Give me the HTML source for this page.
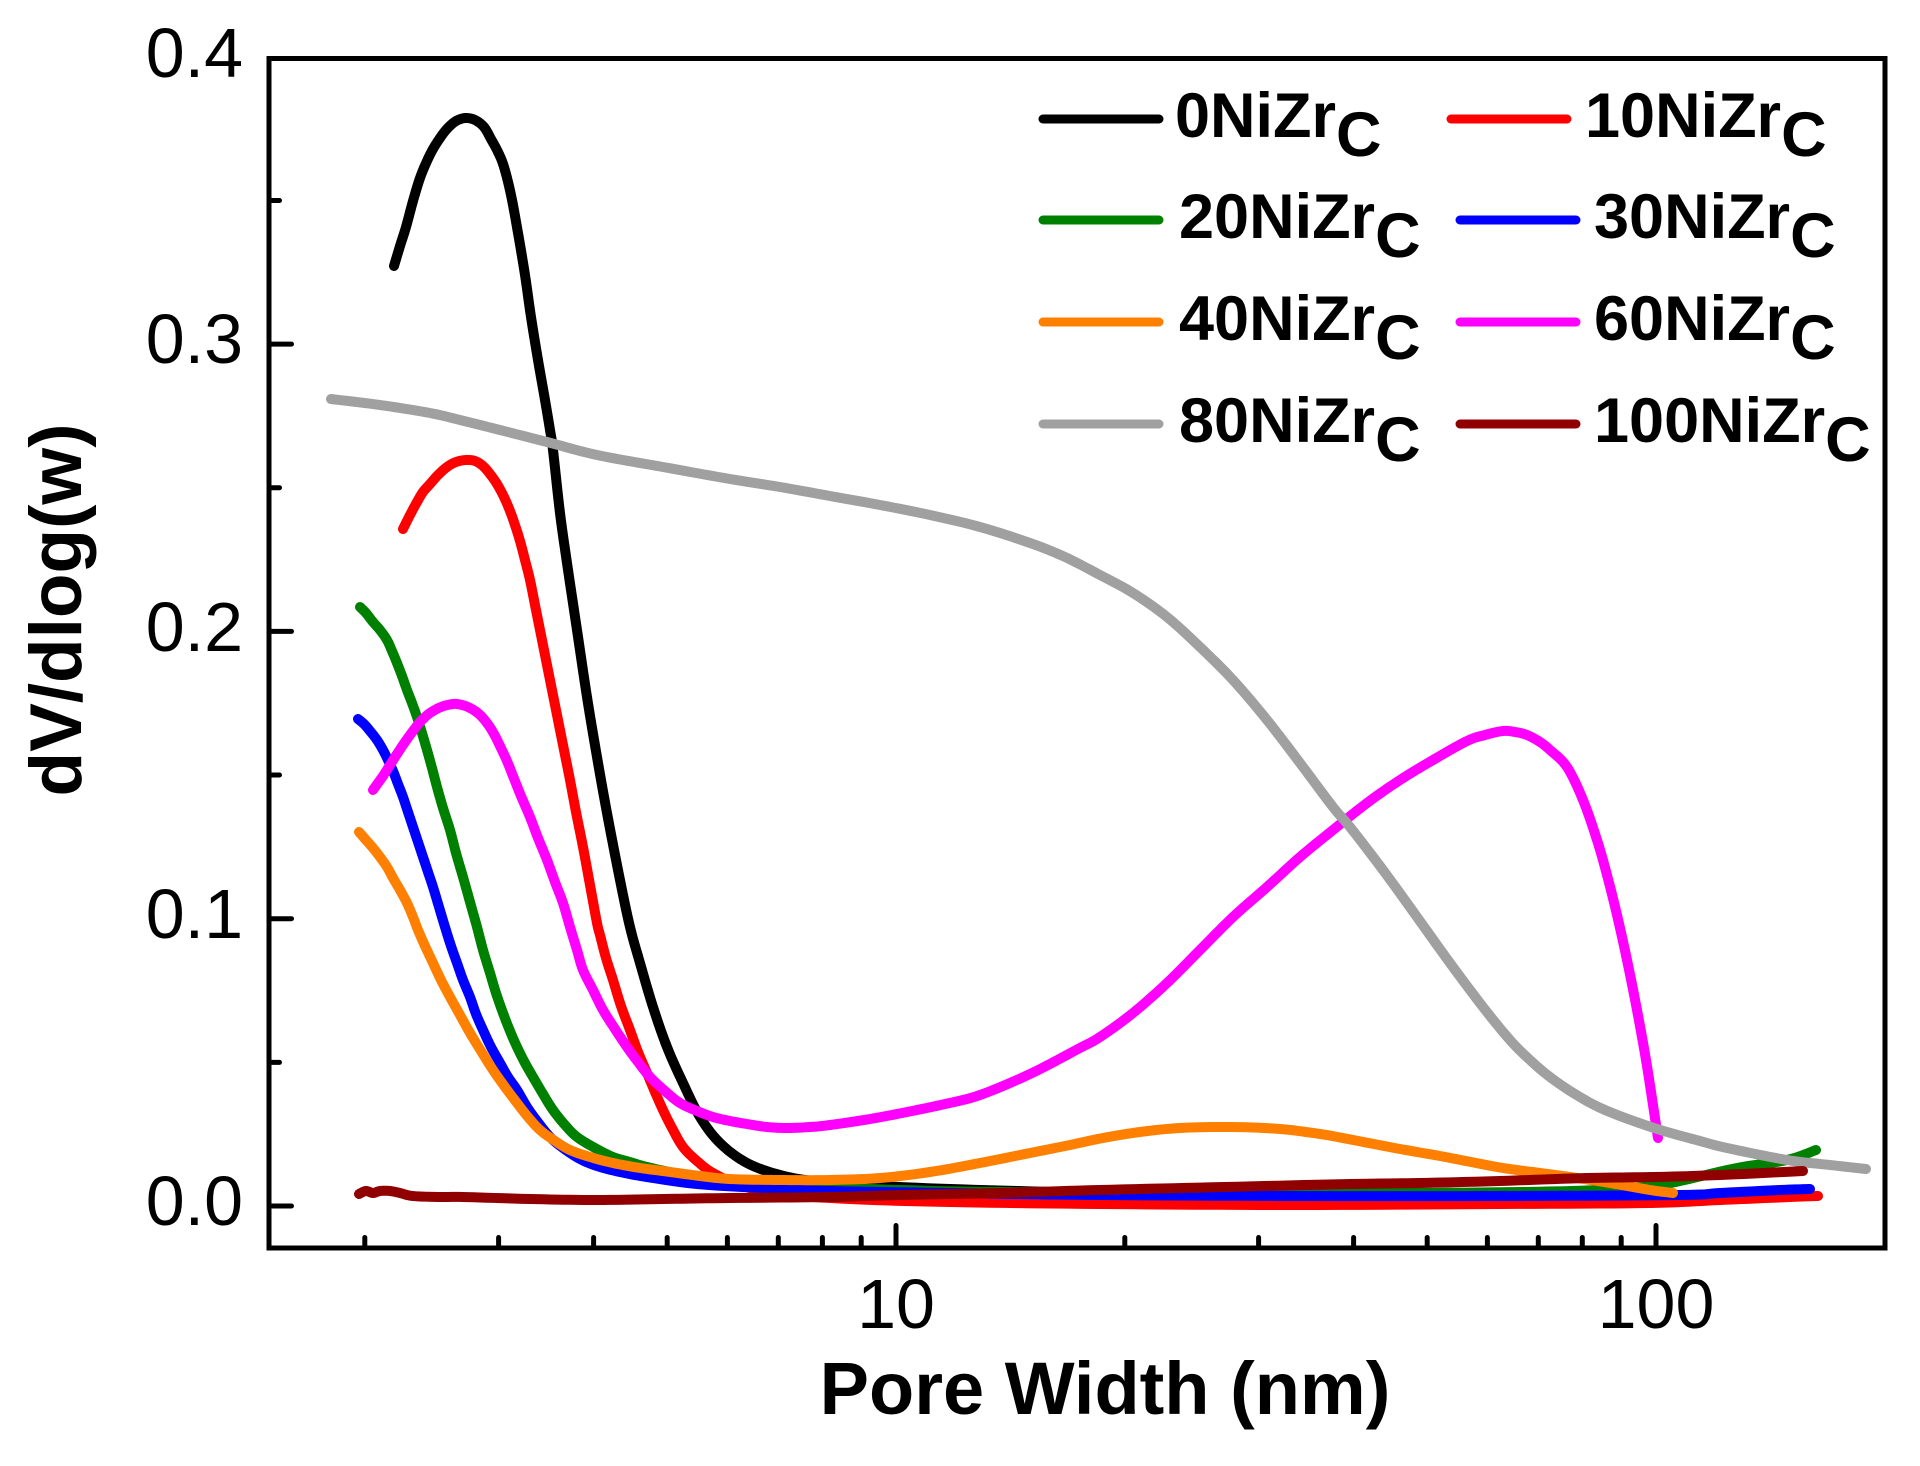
<!DOCTYPE html>
<html>
<head>
<meta charset="utf-8">
<style>
  html, body { margin: 0; padding: 0; background: #ffffff; }
  svg { display: block; }
  text { font-family: "Liberation Sans", Arial, sans-serif; fill: #000; }
</style>
</head>
<body>
<svg width="1920" height="1466" viewBox="0 0 1920 1466" xmlns="http://www.w3.org/2000/svg">
  <rect x="0" y="0" width="1920" height="1466" fill="#ffffff"/>

  <!-- Series -->
  <g fill="none" stroke-width="10" stroke-linecap="round" stroke-linejoin="round">
    <!-- 0NiZrC black -->
    <polyline class="s" stroke="#000000" points="394,266 400,246 406,227 413,201 420,178 427,161 433,149 440,138 446,130 452,124 458,120 466,118 475,120 484,127 491,139 498,152 504,167 511,195 518,233 525,275 531,317 538,360 545,400 550,430 553,450 560,513 567,563 577,630 587,697 597,757 607,813 620,880 630,927 640,963 653,1007 667,1047 683,1083 700,1117 720,1143 747,1163 780,1175 813,1181 860,1185 950,1189 1100,1193 1300,1196 1500,1197 1700,1197 1800,1196"/>
    <!-- 10NiZrC red -->
    <polyline class="s" stroke="#ff0000" points="403,529 410,515 417,502 423,492 430,484 438,475 447,467 456,462 466,460 475,461 483,466 490,474 497,484 504,497 510,511 515,525 520,541 525,560 530,580 535,605 540,630 545,655 550,680 555,705 560,730 565,755 570,780 576,812 583,847 590,885 597,923 600,935 606,958 613,980 621,1006 630,1030 638,1052 647,1073 655,1092 663,1110 672,1128 683,1147 697,1161 713,1173 740,1185 780,1194 850,1199 950,1202 1100,1204 1300,1205 1500,1204 1650,1203 1720,1200 1790,1197 1818,1196"/>
    <!-- 20NiZrC green -->
    <polyline class="s" stroke="#008000" points="360,607 366,613 373,622 380,630 387,640 392,651 397,663 402,676 407,690 412,703 417,717 422,733 427,750 432,768 437,787 443,808 450,830 456,853 463,877 470,902 477,927 483,950 490,973 496,993 503,1013 510,1031 517,1047 525,1063 533,1077 543,1094 553,1110 565,1125 577,1137 595,1148 613,1157 630,1162 647,1167 680,1174 720,1180 800,1186 900,1190 1000,1192 1200,1193 1400,1193 1520,1192 1600,1190 1653,1186 1680,1181 1737,1168 1787,1160 1816,1150"/>
    <!-- 30NiZrC blue -->
    <polyline class="s" stroke="#0000ff" points="358,719 364,724 370,731 377,740 383,750 388,760 393,771 398,784 403,797 408,812 413,827 418,842 423,857 428,872 433,887 439,907 445,927 451,946 457,963 463,980 470,997 476,1014 483,1030 491,1047 500,1063 508,1077 517,1090 527,1107 537,1121 550,1137 563,1148 580,1159 597,1166 620,1172 647,1177 697,1184 763,1188 830,1191 950,1193 1100,1195 1300,1196 1500,1196 1680,1195 1720,1193 1780,1190 1810,1189"/>
    <!-- 40NiZrC orange -->
    <polyline class="s" stroke="#ff8000" points="359,832 366,840 373,848 380,857 387,867 393,878 400,890 407,903 413,917 418,930 425,946 433,963 441,980 450,997 460,1015 470,1033 481,1051 493,1070 505,1087 517,1103 528,1117 540,1130 555,1141 570,1150 590,1157 613,1163 640,1168 663,1171 700,1176 730,1179 780,1180 830,1180 880,1178 930,1172 980,1163 1030,1153 1070,1145 1103,1138 1140,1132 1180,1128 1232,1127 1280,1129 1320,1134 1348,1139 1400,1149 1440,1156 1471,1162 1503,1168 1540,1173 1577,1178 1610,1183 1650,1190 1673,1193"/>
    <!-- 60NiZrC magenta -->
    <polyline class="s" stroke="#ff00ff" points="373,790 378,783 383,776 390,765 397,754 405,742 413,731 421,721 430,713 441,707 453,704 462,705 470,708 479,714 487,723 494,734 500,746 507,761 513,776 521,796 530,817 538,838 547,860 555,882 563,903 570,927 577,950 583,970 593,990 603,1010 615,1029 627,1047 638,1062 650,1077 665,1091 680,1103 697,1111 713,1117 730,1121 747,1124 767,1127 787,1128 810,1127 830,1125 870,1119 907,1112 945,1104 980,1095 1030,1074 1078,1049 1100,1037 1133,1013 1167,983 1200,950 1233,917 1267,887 1300,857 1333,830 1367,803 1400,780 1433,760 1467,741 1485,735 1503,731 1515,732 1527,735 1540,742 1550,750 1567,767 1583,800 1597,840 1607,875 1617,915 1627,960 1637,1010 1646,1060 1653,1105 1658,1138"/>
    <!-- 80NiZrC gray -->
    <polyline class="s" stroke="#a0a0a0" points="331,399 380,405 430,413 464,421 500,430 547,442 597,455 663,467 730,479 780,487 830,496 880,505 930,515 980,527 1030,543 1065,557 1100,575 1133,593 1167,617 1200,647 1233,680 1267,720 1300,763 1333,807 1350,827 1383,870 1417,917 1450,963 1483,1007 1510,1040 1530,1060 1550,1077 1575,1094 1605,1110 1654,1128 1700,1141 1727,1148 1787,1160 1830,1165 1866,1169"/>
    <!-- 100NiZrC dark red -->
    <polyline class="s" stroke="#900000" points="359,1194 366,1191 373,1193 380,1191 390,1191 400,1193 413,1196 440,1197 463,1197 530,1199 597,1200 663,1199 730,1198 830,1197 900,1195 1000,1193 1100,1190 1225,1187 1350,1184 1420,1183 1500,1181 1587,1178 1654,1177 1720,1175 1803,1171"/>
  </g>

  <!-- Frame -->
  <rect x="269" y="58.5" width="1616" height="1189.5" fill="none" stroke="#000" stroke-width="5"/>

  <!-- Ticks -->
  <g stroke="#000" stroke-width="5" stroke-linecap="round" fill="none">
    <line x1="269" y1="1206" x2="291.5" y2="1206"/>
    <line x1="269" y1="918.7" x2="291.5" y2="918.7"/>
    <line x1="269" y1="631.4" x2="291.5" y2="631.4"/>
    <line x1="269" y1="344.1" x2="291.5" y2="344.1"/>
    <line x1="269" y1="1062.4" x2="279.5" y2="1062.4"/>
    <line x1="269" y1="775" x2="279.5" y2="775"/>
    <line x1="269" y1="487.7" x2="279.5" y2="487.7"/>
    <line x1="269" y1="200.5" x2="279.5" y2="200.5"/>
    <line x1="896" y1="1248" x2="896" y2="1225.5"/>
    <line x1="1656" y1="1248" x2="1656" y2="1225.5"/>
    <line x1="364.8" y1="1248" x2="364.8" y2="1237.5"/>
    <line x1="498.6" y1="1248" x2="498.6" y2="1237.5"/>
    <line x1="593.6" y1="1248" x2="593.6" y2="1237.5"/>
    <line x1="667.2" y1="1248" x2="667.2" y2="1237.5"/>
    <line x1="727.4" y1="1248" x2="727.4" y2="1237.5"/>
    <line x1="778.3" y1="1248" x2="778.3" y2="1237.5"/>
    <line x1="822.4" y1="1248" x2="822.4" y2="1237.5"/>
    <line x1="861.2" y1="1248" x2="861.2" y2="1237.5"/>
    <line x1="1124.8" y1="1248" x2="1124.8" y2="1237.5"/>
    <line x1="1258.6" y1="1248" x2="1258.6" y2="1237.5"/>
    <line x1="1353.6" y1="1248" x2="1353.6" y2="1237.5"/>
    <line x1="1427.2" y1="1248" x2="1427.2" y2="1237.5"/>
    <line x1="1487.4" y1="1248" x2="1487.4" y2="1237.5"/>
    <line x1="1538.3" y1="1248" x2="1538.3" y2="1237.5"/>
    <line x1="1582.3" y1="1248" x2="1582.3" y2="1237.5"/>
    <line x1="1621.2" y1="1248" x2="1621.2" y2="1237.5"/>
  </g>

  <!-- Y tick labels -->
  <g font-size="70" text-anchor="end">
    <text x="243" y="1225">0.0</text>
    <text x="243" y="938">0.1</text>
    <text x="243" y="651">0.2</text>
    <text x="243" y="363">0.3</text>
    <text x="243" y="77">0.4</text>
  </g>

  <!-- X tick labels -->
  <g font-size="70" text-anchor="middle">
    <text x="896" y="1328">10</text>
    <text x="1656" y="1328">100</text>
  </g>

  <!-- Axis titles -->
  <text x="1105" y="1414" font-size="74" font-weight="bold" text-anchor="middle">Pore Width (nm)</text>
  <text x="0" y="0" font-size="73" font-weight="bold" text-anchor="middle" transform="translate(81,610) rotate(-90)">dV/dlog(w)</text>

  <!-- Legend -->
  <g stroke-width="9" stroke-linecap="round" fill="none">
    <line x1="1043" y1="119" x2="1159" y2="119" stroke="#000000"/>
    <line x1="1043" y1="220" x2="1159" y2="220" stroke="#008000"/>
    <line x1="1043" y1="322" x2="1159" y2="322" stroke="#ff8000"/>
    <line x1="1043" y1="424" x2="1159" y2="424" stroke="#a0a0a0"/>
    <line x1="1451" y1="119" x2="1567" y2="119" stroke="#ff0000"/>
    <line x1="1460" y1="220" x2="1576" y2="220" stroke="#0000ff"/>
    <line x1="1460" y1="322" x2="1576" y2="322" stroke="#ff00ff"/>
    <line x1="1460" y1="424" x2="1576" y2="424" stroke="#900000"/>
  </g>
  <g font-size="63" font-weight="bold">
    <text x="1175" y="137">0NiZr<tspan dy="19">C</tspan></text>
    <text x="1179" y="238">20NiZr<tspan dy="19">C</tspan></text>
    <text x="1179" y="340">40NiZr<tspan dy="19">C</tspan></text>
    <text x="1179" y="442">80NiZr<tspan dy="19">C</tspan></text>
    <text x="1585" y="137">10NiZr<tspan dy="19">C</tspan></text>
    <text x="1594" y="238">30NiZr<tspan dy="19">C</tspan></text>
    <text x="1594" y="340">60NiZr<tspan dy="19">C</tspan></text>
    <text x="1594" y="442">100NiZr<tspan dy="19">C</tspan></text>
  </g>
</svg>
<script>
(function () {
  try {
    var lines = document.querySelectorAll('polyline.s');
    for (var k = 0; k < lines.length; k++) {
      var pl = lines[k];
      var raw = pl.getAttribute('points').trim().split(/\s+/);
      var p = raw.map(function (s) { var a = s.split(','); return [parseFloat(a[0]), parseFloat(a[1])]; });
      if (p.length < 3) continue;
      var out = [];
      var N = 10;
      for (var i = 0; i < p.length - 1; i++) {
        var p0 = p[i > 0 ? i - 1 : i], p1 = p[i], p2 = p[i + 1], p3 = p[i + 2 < p.length ? i + 2 : i + 1];
        for (var j = 0; j < N; j++) {
          var t = j / N, t2 = t * t, t3 = t2 * t;
          var x = 0.5 * ((2 * p1[0]) + (-p0[0] + p2[0]) * t + (2 * p0[0] - 5 * p1[0] + 4 * p2[0] - p3[0]) * t2 + (-p0[0] + 3 * p1[0] - 3 * p2[0] + p3[0]) * t3);
          var y = 0.5 * ((2 * p1[1]) + (-p0[1] + p2[1]) * t + (2 * p0[1] - 5 * p1[1] + 4 * p2[1] - p3[1]) * t2 + (-p0[1] + 3 * p1[1] - 3 * p2[1] + p3[1]) * t3);
          out.push(x.toFixed(2) + ',' + y.toFixed(2));
        }
      }
      var last = p[p.length - 1];
      out.push(last[0] + ',' + last[1]);
      pl.setAttribute('points', out.join(' '));
    }
  } catch (e) {}
})();
</script>
</body>
</html>
